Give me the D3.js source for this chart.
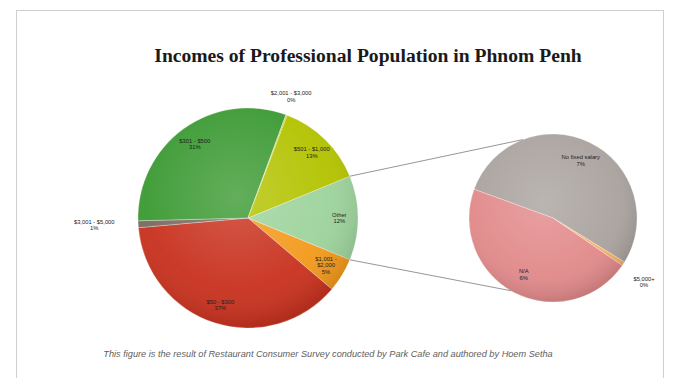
<!DOCTYPE html>
<html><head><meta charset="utf-8">
<script src="https://cdn.jsdelivr.net/npm/d3@7"></script>
<style>body{margin:0;background:#fff}svg{display:block}</style>
</head><body>
<svg id="c" width="677" height="378"></svg>
<script>
// ---- data (clockwise order as drawn) ----
const subLabels = ["No fixed salary", "$5,000+", "N/A"];
const subValues = [6.6, 0.1, 5.7];
const mainLabels = ["Other", "$1,001 - $2,000", "$50 - $300", "$3,001 - $5,000", "$301 - $500", "$2,001 - $3,000", "$501 - $1,000"];
const mainValues = [d3.sum(subValues), 5.0, 37.4, 1.0, 31.0, 0.2, 13.0];
const mainColors = ["#9dd39c", "#f39a1c", "#c9321f", "#7a6a62", "#3c9a33", "#c9c832", "#b3c300"];
const subColors = ["#aaa39f", "#f8b068", "#e28a8b"];
const title = "Incomes of Professional Population in Phnom Penh";
const caption = "This figure is the result of Restaurant Consumer Survey conducted by Park Cafe and authored by Hoem Setha";

const svg = d3.select("#c");
const total = d3.sum(mainValues);
const pct = d3.format(".0%");
const deg = Math.PI / 180;

// frame
svg.append("rect").attr("x", 16.5).attr("y", 10.5).attr("width", 647).attr("height", 380)
  .attr("fill", "none").attr("stroke", "#cfcfcf");

svg.append("text").attr("x", 368).attr("y", 62).attr("text-anchor", "middle")
  .attr("font-family", "Liberation Serif, Times New Roman, serif").attr("font-weight", "bold")
  .attr("font-size", 19.6).attr("fill", "#1a1a1a").text(title);

svg.append("text").attr("x", 328).attr("y", 357).attr("text-anchor", "middle")
  .attr("font-family", "Liberation Sans, Arial, sans-serif").attr("font-style", "italic")
  .attr("font-size", 9.2).attr("fill", "#606060").text(caption);

// gradient for shading
const defs = svg.append("defs");
const g1 = defs.append("radialGradient").attr("id", "shade").attr("cx", "45%").attr("cy", "40%").attr("r", "60%");
g1.append("stop").attr("offset", "0%").attr("stop-color", "#fff").attr("stop-opacity", 0.2);
g1.append("stop").attr("offset", "70%").attr("stop-color", "#fff").attr("stop-opacity", 0.04);
g1.append("stop").attr("offset", "100%").attr("stop-color", "#000").attr("stop-opacity", 0.12);

// main pie
const M = {cx: 248, cy: 218, r: 110};
const otherAngle = mainValues[0] / total * 2 * Math.PI;
const start = Math.PI / 2 - otherAngle / 2;
const pieMain = d3.pie().sort(null).value(d => d).startAngle(start).endAngle(start + 2 * Math.PI);
const arcsMain = pieMain(mainValues);
const arcM = d3.arc().innerRadius(0).outerRadius(M.r);
const gm = svg.append("g").attr("transform", `translate(${M.cx},${M.cy})`);
gm.selectAll("path").data(arcsMain).join("path").attr("d", arcM)
  .attr("fill", (d, i) => mainColors[i]).attr("stroke", "#ffffff").attr("stroke-opacity", 0.5).attr("stroke-width", 0.6);
gm.append("circle").attr("r", M.r).attr("fill", "url(#shade)");

// second pie
const S = {cx: 553, cy: 218, r: 84};
const subStart = -70 * deg;
const pieSub = d3.pie().sort(null).value(d => d).startAngle(subStart).endAngle(subStart + 2 * Math.PI);
const arcsSub = pieSub(subValues);
const arcS = d3.arc().innerRadius(0).outerRadius(S.r);
const gs = svg.append("g").attr("transform", `translate(${S.cx},${S.cy})`);
gs.selectAll("path").data(arcsSub).join("path").attr("d", arcS)
  .attr("fill", (d, i) => subColors[i]).attr("stroke", "#ffffff").attr("stroke-opacity", 0.5).attr("stroke-width", 0.6);
gs.append("circle").attr("r", S.r).attr("fill", "url(#shade)");

// connector lines
function pt(c, r, a) { return [c.cx + r * Math.sin(a), c.cy - r * Math.cos(a)]; }
const o = arcsMain[0];
const lines = [[pt(M, M.r, o.startAngle), pt(S, S.r, -21 * deg)], [pt(M, M.r, o.endAngle), pt(S, S.r, 210 * deg)]];
svg.selectAll("line.conn").data(lines).join("line").attr("class", "conn")
  .attr("x1", d => d[0][0]).attr("y1", d => d[0][1]).attr("x2", d => d[1][0]).attr("y2", d => d[1][1])
  .attr("stroke", "#8a8a8a").attr("stroke-width", 0.9);

// labels
function drawLabel(g, lines, x, y) {
  const t = g.append("text").attr("text-anchor", "middle")
    .attr("font-family", "Liberation Sans, Arial, sans-serif").attr("font-size", 5.8).attr("fill", "#222");
  const n = lines.length;
  lines.forEach((s, k) => {
    t.append("tspan").attr("x", x).attr("y", y + (k - (n - 1) / 2) * 6.6 + 2).text(s);
  });
}
arcsMain.forEach((d, i) => {
  const share = d.value / total;
  const mid = (d.startAngle + d.endAngle) / 2;
  const span = d.endAngle - d.startAngle;
  if (span < 0.12) {
    const rr = M.r * 1.12;
    drawLabel(gm, [mainLabels[i], pct(share)], rr * Math.sin(mid) * (i === 3 ? 1.25 : 1), -rr * Math.cos(mid) - (i === 5 ? 6 : 0));
    return;
  }
  let lines = [mainLabels[i], pct(share)];
  if (span < 0.4) lines = [mainLabels[i].split(" - ")[0] + " -", mainLabels[i].split(" - ")[1], pct(share)];
  const rr = M.r * 0.83;
  drawLabel(gm, lines, rr * Math.sin(mid), -rr * Math.cos(mid));
});
arcsSub.forEach((d, i) => {
  const share = d.value / total;
  const mid = (d.startAngle + d.endAngle) / 2;
  const span = d.endAngle - d.startAngle;
  if (span < 0.12) {
    const rr = S.r * 1.18;
    drawLabel(gs, [subLabels[i], pct(share)], rr * Math.sin(mid) + 8, -rr * Math.cos(mid) + 10);
    return;
  }
  const rr = S.r * 0.76;
  drawLabel(gs, [subLabels[i], pct(share)], rr * Math.sin(mid), -rr * Math.cos(mid));
});
</script>
</body></html>
